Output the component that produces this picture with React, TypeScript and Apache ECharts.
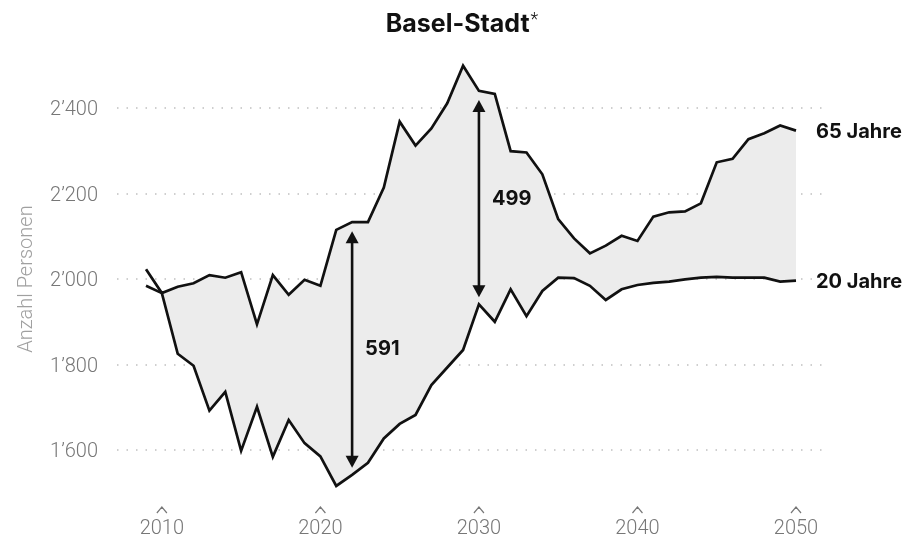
import React, { useEffect, useRef } from "react";
import * as echarts from "echarts";

// ---- data ----
const years = [
  2009, 2010, 2011, 2012, 2013, 2014, 2015, 2016, 2017, 2018, 2019, 2020, 2021, 2022,
  2023, 2024, 2025, 2026, 2027, 2028, 2029, 2030, 2031, 2032, 2033, 2034, 2035, 2036,
  2037, 2038, 2039, 2040, 2041, 2042, 2043, 2044, 2045, 2046, 2047, 2048, 2049, 2050,
];

const age65 = [
  2023, 1967, 1982, 1990, 2009, 2003, 2016, 1894, 2009, 1963, 1998, 1984, 2115, 2133,
  2133, 2214, 2368, 2312, 2352, 2411, 2499, 2440, 2433, 2299, 2296, 2245, 2140, 2095,
  2060, 2078, 2101, 2089, 2146, 2156, 2158, 2177, 2273, 2281, 2327, 2341, 2359, 2347,
];

const age20 = [
  1984, 1967, 1825, 1797, 1692, 1736, 1598, 1701, 1584, 1670, 1616, 1585, 1516, 1542,
  1570, 1627, 1661, 1682, 1752, 1793, 1834, 1941, 1900, 1976, 1913, 1972, 2003, 2002,
  1984, 1951, 1976, 1986, 1991, 1994, 1999, 2003, 2005, 2003, 2003, 2003, 1994, 1996,
];

const seriesNames = ["65 Jahre", "20 Jahre"];
const xTickLabels = [2010, 2020, 2030, 2040, 2050];
const yTicks = [1600, 1800, 2000, 2200, 2400];
const annotatedYears = [2022, 2030];
const shadeFromYear = 2010;

const title = "Basel-Stadt";
const yAxisName = "Anzahl Personen";

// ---- helpers ----
const fmtThousands = (v: number) => {
  const t = Math.floor(v / 1000);
  const r = Math.round(v % 1000);
  return `${t}\u2019${String(r).padStart(3, "0")}`;
};

const FONT = "Roboto";
const BOLD_FONT = "Inter";
const INK = "#111";

export default function App() {
  const ref = useRef<HTMLDivElement>(null);

  useEffect(() => {
    if (!ref.current) return;
    const chart = echarts.init(ref.current, undefined, { renderer: "svg" });

    const lowerData = years.map((y, i) => [y, age20[i]]);
    const upperData = years.map((y, i) => [y, age65[i]]);

    const annotData = annotatedYears.map((yr) => {
      const i = years.indexOf(yr);
      return [yr, age65[i], age20[i]];
    });
    const caretData = xTickLabels.map((v) => [v, yTicks[0]]);

    const endLabelStyle = {
      show: true,
      distance: 20,
      fontFamily: BOLD_FONT,
      fontWeight: 700,
      fontSize: 20,
      color: INK,
    };

    chart.setOption({
      animation: false,
      title: {
        text: `{b|${title}}{s|*}`,
        left: "center",
        top: 4,
        textStyle: {
          rich: {
            b: { fontFamily: BOLD_FONT, fontWeight: 700, fontSize: 25, color: INK },
            s: {
              fontFamily: FONT,
              fontWeight: 300,
              fontSize: 18,
              color: INK,
              padding: [0, 0, 10, 1],
            },
          },
        },
      },
      grid: {
        left: 117,
        right: 102,
        top: 108,
        bottom: 94,
        containLabel: false,
        outerBoundsMode: "none",
      },
      xAxis: {
        type: "value",
        min: 2007.17,
        max: 2051.64,
        axisLine: { show: false },
        axisTick: { show: false },
        splitLine: { show: false },
        axisLabel: {
          customValues: xTickLabels,
          formatter: (v: number) => String(v),
          margin: 66,
          lineHeight: 22,
          fontFamily: FONT,
          fontWeight: 300,
          fontSize: 20,
          color: "#777",
        },
      },
      yAxis: {
        type: "value",
        min: 1600,
        max: 2400,
        interval: 200,
        name: yAxisName,
        nameLocation: "middle",
        nameRotate: 90,
        nameGap: 82,
        nameTextStyle: {
          fontFamily: FONT,
          fontWeight: 300,
          fontSize: 20,
          color: "#a0a0a0",
        },
        axisLine: { show: false },
        axisTick: { show: false },
        axisLabel: {
          margin: 19,
          fontFamily: FONT,
          fontWeight: 300,
          fontSize: 20,
          color: "#777",
          formatter: (v: number) => (yTicks.includes(v) ? fmtThousands(v) : ""),
        },
        splitLine: {
          show: true,
          lineStyle: { color: "#cfcfcf", width: 2, type: [1.5, 8] },
        },
      },
      series: [
        {
          // shaded band between the two lines
          type: "custom",
          name: "band",
          silent: true,
          z: 1,
          data: [[shadeFromYear, age20[years.indexOf(shadeFromYear)]]],
          renderItem: (_params: any, api: any) => {
            const pts: number[][] = [];
            years.forEach((y, i) => {
              if (y >= shadeFromYear) pts.push(api.coord([y, age65[i]]));
            });
            for (let i = years.length - 1; i >= 0; i--) {
              if (years[i] >= shadeFromYear) pts.push(api.coord([years[i], age20[i]]));
            }
            return {
              type: "polygon",
              shape: { points: pts },
              style: { fill: "#ececec", stroke: null },
            };
          },
        },
        {
          type: "line",
          name: seriesNames[1],
          data: lowerData,
          showSymbol: false,
          symbol: "none",
          clip: false,
          silent: true,
          z: 3,
          lineStyle: { color: INK, width: 2.7, join: "miter" },
          endLabel: { ...endLabelStyle, formatter: seriesNames[1] },
        },
        {
          type: "line",
          name: seriesNames[0],
          data: upperData,
          showSymbol: false,
          symbol: "none",
          clip: false,
          silent: true,
          z: 3,
          lineStyle: { color: INK, width: 2.7, join: "miter" },
          endLabel: { ...endLabelStyle, formatter: seriesNames[0] },
        },
        {
          // difference arrows with labels
          type: "custom",
          name: "annotations",
          silent: true,
          z: 4,
          data: annotData,
          encode: { x: 0, y: [1, 2] },
          renderItem: (_params: any, api: any) => {
            const yr = api.value(0);
            const hi = api.value(1);
            const lo = api.value(2);
            const top = api.coord([yr, hi]);
            const bot = api.coord([yr, lo]);
            const x = top[0];
            const tTip = top[1] + 9;
            const bTip = bot[1] - 7;
            const hw = 6.5;
            const hh = 12;
            return {
              type: "group",
              children: [
                {
                  type: "line",
                  shape: { x1: x, y1: tTip + hh - 1, x2: x, y2: bTip - hh + 1 },
                  style: { stroke: INK, lineWidth: 2.6 },
                },
                {
                  type: "polygon",
                  shape: { points: [[x, tTip], [x - hw, tTip + hh], [x + hw, tTip + hh]] },
                  style: { fill: INK },
                },
                {
                  type: "polygon",
                  shape: { points: [[x, bTip], [x - hw, bTip - hh], [x + hw, bTip - hh]] },
                  style: { fill: INK },
                },
                {
                  type: "text",
                  x: x + 13,
                  y: (top[1] + bot[1]) / 2,
                  style: {
                    text: String(hi - lo),
                    fill: INK,
                    fontFamily: BOLD_FONT,
                    fontWeight: 700,
                    fontSize: 20,
                    align: "left",
                    verticalAlign: "middle",
                  },
                },
              ],
            };
          },
        },
        {
          // small chevrons above x-axis labels
          type: "custom",
          name: "carets",
          silent: true,
          z: 2,
          data: caretData,
          renderItem: (_params: any, api: any) => {
            const p = api.coord([api.value(0), api.value(1)]);
            const x = p[0];
            const b = p[1];
            return {
              type: "polyline",
              shape: {
                points: [
                  [x - 5, b + 63],
                  [x, b + 57],
                  [x + 5, b + 63],
                ],
              },
              style: { stroke: "#777", lineWidth: 1.2, fill: null },
            };
          },
        },
      ],
    });

    return () => chart.dispose();
  }, []);

  return (
    <div
      ref={ref}
      style={{ position: "fixed", left: 0, top: 0, width: 924, height: 544 }}
    />
  );
}
